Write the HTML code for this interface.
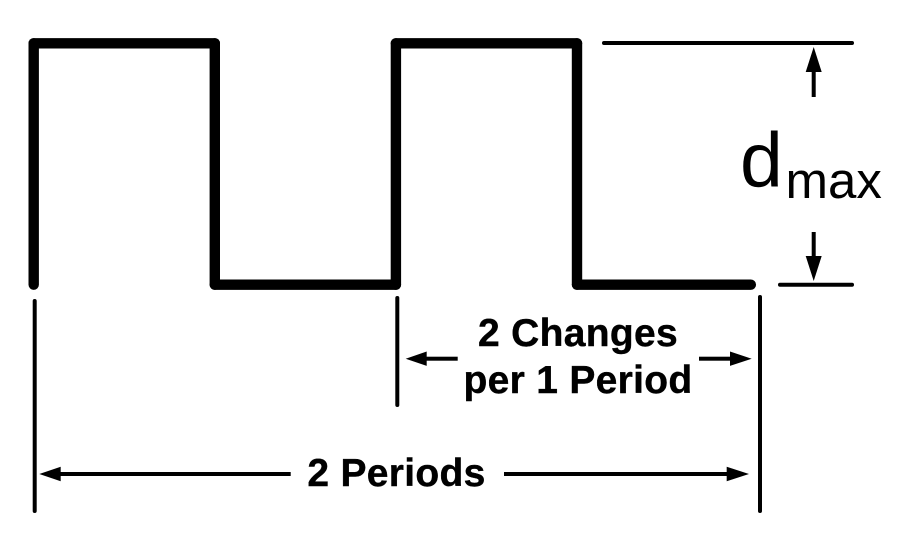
<!DOCTYPE html>
<html lang="en">
<head>
<meta charset="utf-8">
<title>Square wave diagram</title>
<style>
  html, body { margin: 0; padding: 0; background: #fff; }
  body { width: 900px; height: 550px; overflow: hidden; }
  svg { display: block; }
  text { fill: #000; font-family: "Liberation Sans", Arial, sans-serif; }
  .bold { font-weight: 700; font-size: 39px; letter-spacing: 0.3px; stroke: #000; stroke-width: 0.4px; }
</style>
</head>
<body>
<svg id="diagram" width="900" height="550" viewBox="0 0 900 550" xmlns="http://www.w3.org/2000/svg">
  <rect x="0" y="0" width="900" height="550" fill="#fff"/>
  <g id="wave"></g>

  <g stroke="#000" stroke-width="4" stroke-linecap="round">
    <line x1="604" y1="43" x2="852" y2="43"/>
    <line x1="780" y1="284.7" x2="852" y2="284.7"/>
  </g>

  <g stroke="#000" stroke-width="4" stroke-linecap="round">
    <line x1="34.7" y1="301" x2="34.7" y2="511"/>
    <line x1="397.3" y1="298" x2="397.3" y2="405"/>
    <line x1="760" y1="297" x2="760" y2="511"/>
  </g>

  <g>
    <g>
      <rect x="811.7" y="70" width="4" height="27" fill="#000"/>
      <polygon points="813.7,47 805.7,72 821.7,72" fill="#000"/>
    </g>
    <g>
      <rect x="811.7" y="232" width="4" height="26" fill="#000"/>
      <polygon points="813.7,281 805.7,256 821.7,256" fill="#000"/>
    </g>
  </g>

  <g>
    <g>
      <rect x="425" y="356.7" width="32.7" height="4" fill="#000"/>
      <polygon points="405.7,358.7 426.7,351.5 426.7,365.9" fill="#000"/>
    </g>
    <g>
      <rect x="699" y="356.7" width="33" height="4" fill="#000"/>
      <polygon points="751.7,358.7 730,351.5 730,365.9" fill="#000"/>
    </g>
  </g>

  <g>
    <g>
      <rect x="59" y="472" width="231.7" height="4" fill="#000"/>
      <polygon points="39.3,474 60.7,466.7 60.7,481.3" fill="#000"/>
    </g>
    <g>
      <rect x="504" y="472" width="224" height="4" fill="#000"/>
      <polygon points="749,474 726.7,466.7 726.7,481.3" fill="#000"/>
    </g>
  </g>

  <text x="740" y="186.7" font-size="77">d</text>
  <text x="785.5" y="198" font-size="51">max</text>
  <text class="bold" x="578" y="346" text-anchor="middle">2 Changes</text>
  <text class="bold" x="578" y="393" text-anchor="middle">per 1 Period</text>
  <text class="bold" x="396.5" y="486" text-anchor="middle">2 Periods</text>
</svg>
<script>
// Waveform data: time in periods, and the signal level (0 = low, 1 = high) from that time on.
var stepTimes = [0, 0.5, 1, 1.5];
var stepLevels = [1, 0, 1, 0];
var startLevel = 0;
var endTime = 1.98;

function xAxis(t) { return 33.7 + t * 362.2; }
function yAxis(level) { return 284.7 - level * 241.4; }

var SVG_NS = 'http://www.w3.org/2000/svg';
var waveGroup = document.getElementById('wave');

function addSegment(x1, y1, x2, y2, name) {
  var seg = document.createElementNS(SVG_NS, 'line');
  seg.setAttribute('x1', x1);
  seg.setAttribute('y1', y1);
  seg.setAttribute('x2', x2);
  seg.setAttribute('y2', y2);
  seg.setAttribute('stroke', '#000');
  seg.setAttribute('stroke-width', '10.4');
  seg.setAttribute('stroke-linecap', 'round');
  
  
  waveGroup.appendChild(seg);
}

var previousLevel = startLevel;
stepTimes.forEach(function (t, i) {
  var x = xAxis(t);
  var level = stepLevels[i];
  var nextTime = i + 1 < stepTimes.length ? stepTimes[i + 1] : endTime;
  addSegment(x, yAxis(previousLevel), x, yAxis(level), 'wave-edge-' + (i + 1));
  addSegment(x, yAxis(level), xAxis(nextTime), yAxis(level), 'wave-level-' + (i + 1));
  previousLevel = level;
});
</script>
</body>
</html>
